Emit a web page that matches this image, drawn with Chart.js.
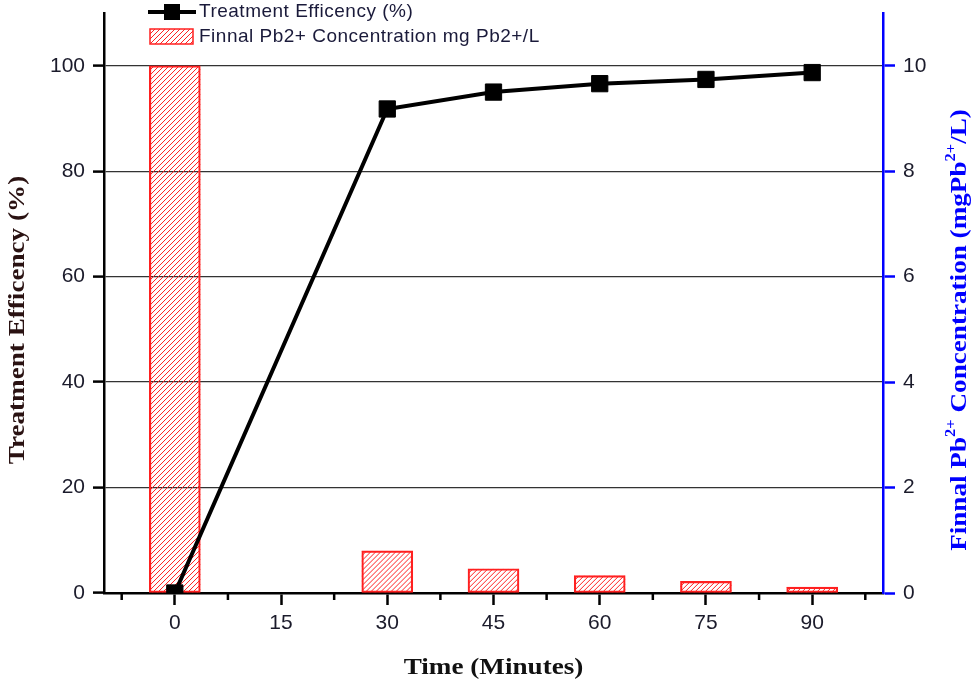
<!DOCTYPE html>
<html lang="en"><head>
<meta charset="UTF-8">
<title>Treatment Efficency and Pb2+ Concentration</title>
<script src="https://cdn.jsdelivr.net/npm/chart.js@4.4.1/dist/chart.umd.min.js"></script>
<style>
  html, body { margin:0; padding:0; background:#ffffff; }
  #chart { display:block; }
</style>
</head>
<body>
<canvas id="chart" width="975" height="684"></canvas>
<script>
// data
const times = [0, 30, 45, 60, 75, 90];
const efficiency = [0, 91.8, 95.0, 96.6, 97.4, 98.7];
const concentration = [10, 0.80, 0.46, 0.33, 0.22, 0.11];

const xTicks = [0, 15, 30, 45, 60, 75, 90];
const xMinor = [-7.5, 7.5, 22.5, 37.5, 52.5, 67.5, 82.5, 97.5];
const yLeftTicks = [0, 20, 40, 60, 80, 100];
const yRightTicks = [0, 2, 4, 6, 8, 10];

const lineLabel = 'Treatment Efficency (%)';
const barLabel = 'Finnal Pb2+ Concentration mg Pb2+/L';
const xTitle = [{ t: 'Time (Minutes)' }];
const yTitle = [{ t: 'Treatment Efficency (%)' }];
const y2Title = [{ t: 'Finnal Pb' }, { t: '2+', sup: true }, { t: ' Concentration (mgPb' }, { t: '2+', sup: true }, { t: '/L)' }];

const RED = '#ff2020';
const tickFont = { family: 'Liberation Sans, Arial, sans-serif', size: 21 };
const SERIF = 'Liberation Serif, Times New Roman, serif';

// diagonal hatching inside a rectangle
function hatchRect(ctx, x0, y0, w, h) {
  ctx.save();
  ctx.beginPath();
  ctx.rect(x0, y0, w, h);
  ctx.clip();
  ctx.strokeStyle = RED;
  ctx.lineWidth = 1;
  ctx.beginPath();
  for (let k = -h; k < w + h; k += 5) {
    ctx.moveTo(x0 + k, y0 + h);
    ctx.lineTo(x0 + k + h, y0);
  }
  ctx.stroke();
  ctx.restore();
}

// text with superscripts, stretched horizontally like the picture
function richWidth(ctx, parts, size) {
  let w = 0;
  parts.forEach(p => {
    ctx.font = 'bold ' + (p.sup ? Math.round(size * 0.62) : size) + 'px ' + SERIF;
    w += ctx.measureText(p.t).width;
  });
  return w;
}
function drawRich(ctx, parts, cx, cy, rot, size, color, stretch) {
  ctx.save();
  ctx.translate(cx, cy);
  ctx.rotate(rot);
  ctx.scale(stretch, 1);
  ctx.fillStyle = color;
  ctx.textBaseline = 'alphabetic';
  const w = richWidth(ctx, parts, size);
  let x = -w / 2;
  const base = size * 0.33;
  parts.forEach(p => {
    ctx.font = 'bold ' + (p.sup ? Math.round(size * 0.62) : size) + 'px ' + SERIF;
    ctx.fillText(p.t, x, p.sup ? base - size * 0.45 : base);
    x += ctx.measureText(p.t).width;
  });
  ctx.restore();
}

function noPad(s) {
  s.paddingTop = 0; s.paddingBottom = 0;
  s.paddingLeft = 0; s.paddingRight = 0;
}

const extras = {
  id: 'extras',
  afterDatasetDraw(chart, args) {
    if (args.meta.type !== 'bar') return;
    const ctx = chart.ctx;
    args.meta.data.forEach(bar => {
      const p = bar.getProps(['x', 'y', 'base', 'width'], true);
      const top = Math.min(p.y, p.base);
      hatchRect(ctx, p.x - p.width / 2, top, p.width, Math.abs(p.base - p.y));
    });
  },
  afterDraw(chart) {
    const ctx = chart.ctx;
    const xs = chart.scales.x;
    const area = chart.chartArea;
    ctx.save();
    ctx.strokeStyle = '#000';
    ctx.lineWidth = 2.5;
    xMinor.forEach(v => {
      const px = xs.getPixelForValue(v);
      ctx.beginPath();
      ctx.moveTo(px, xs.top);
      ctx.lineTo(px, xs.top + 7);
      ctx.stroke();
    });

    // legend
    const ds0 = chart.data.datasets[0];
    const ds1 = chart.data.datasets[1];
    ctx.strokeStyle = ds0.borderColor;
    ctx.lineWidth = 4;
    ctx.beginPath();
    ctx.moveTo(148, 12); ctx.lineTo(196, 12);
    ctx.stroke();
    ctx.fillStyle = ds0.pointBackgroundColor;
    ctx.fillRect(164, 4, 16, 16);

    hatchRect(ctx, 150, 29, 43, 15);
    ctx.strokeStyle = ds1.borderColor;
    ctx.lineWidth = 1.5;
    ctx.strokeRect(150, 29, 43, 15);

    ctx.fillStyle = '#1a1a3a';
    ctx.font = '19px Liberation Sans, Arial, sans-serif';
    ctx.letterSpacing = '0.5px';
    ctx.textBaseline = 'middle';
    ctx.fillText(ds0.label, 199, 12);
    ctx.fillText(ds1.label, 199, 37);
    ctx.letterSpacing = '0px';
    ctx.restore();

    // axis titles
    const cx = (area.left + area.right) / 2;
    drawRich(ctx, xTitle, cx, 666, 0, 23, '#111111', 1.18);
    drawRich(ctx, yTitle, 16, 320, -Math.PI / 2, 23, '#2a1212', 1.18);
    drawRich(ctx, y2Title, 958, 330, -Math.PI / 2, 23, '#0000ff', 1.18);
  }
};

new Chart(document.getElementById('chart'), {
  data: {
    datasets: [{
      type: 'line',
      label: lineLabel,
      data: times.map((t, i) => ({ x: t, y: efficiency[i] })),
      yAxisID: 'y',
      borderColor: '#000000',
      borderWidth: 4,
      pointStyle: 'rect',
      pointRadius: 11.5,
      pointBorderWidth: 1,
      pointBackgroundColor: '#000000',
      pointBorderColor: '#000000',
      tension: 0,
      order: 0
    }, {
      type: 'bar',
      label: barLabel,
      data: times.map((t, i) => ({ x: t, y: concentration[i] })),
      yAxisID: 'y2',
      backgroundColor: 'rgba(255,255,255,0)',
      borderColor: RED,
      borderWidth: 1.5,
      borderSkipped: false,
      barThickness: 51,
      order: 1
    }]
  },
  options: {
    responsive: false,
    animation: false,
    layout: { padding: { top: 13, left: 0, right: 0, bottom: 0 } },
    plugins: { legend: { display: false }, tooltip: { enabled: false } },
    scales: {
      x: {
        type: 'linear',
        min: -10, max: 100,
        offset: false,
        afterBuildTicks: s => { s.ticks = xTicks.map(v => ({ value: v })); },
        afterFit: s => { s.height = 91; noPad(s); },
        grid: { offset: false, drawOnChartArea: false, tickLength: 12, tickWidth: 2.5, color: '#000' },
        border: { color: '#000', width: 2.5 },
        ticks: { font: tickFont, color: '#1b1b2b', padding: 6, maxRotation: 0 }
      },
      y: {
        position: 'left',
        min: 0, max: 110,
        afterBuildTicks: s => { s.ticks = yLeftTicks.map(v => ({ value: v })); },
        afterFit: s => { s.width = 104; noPad(s); },
        grid: { color: '#333', lineWidth: 1.2, tickLength: 11, tickWidth: 2.5, tickColor: '#000' },
        border: { color: '#000', width: 2.5 },
        ticks: { font: tickFont, color: '#1b1b2b', padding: 8 }
      },
      y2: {
        position: 'right',
        min: 0, max: 11,
        afterBuildTicks: s => { s.ticks = yRightTicks.map(v => ({ value: v })); },
        afterFit: s => { s.width = 92; noPad(s); },
        grid: { drawOnChartArea: false, tickLength: 12, tickWidth: 2.5, color: '#0000ff' },
        border: { color: '#0000ff', width: 2.5 },
        ticks: { font: tickFont, color: '#1b1b2b', padding: 8 }
      }
    }
  },
  plugins: [extras]
});
</script>
</body></html>
